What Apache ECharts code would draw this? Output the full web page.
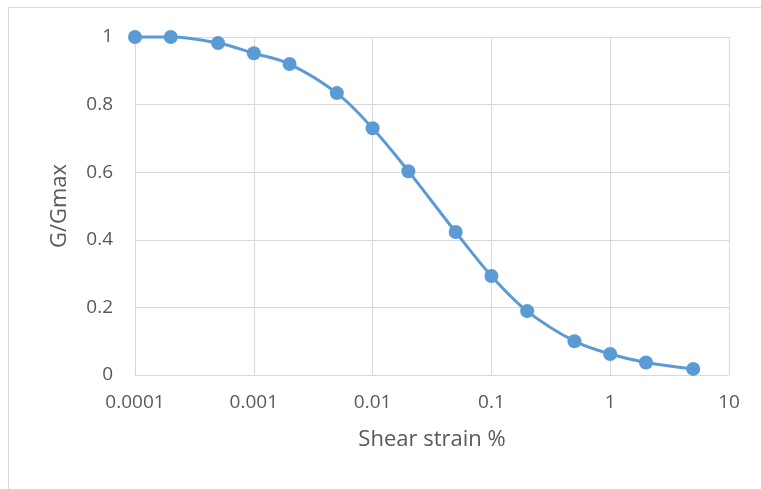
<!DOCTYPE html>
<html>
<head>
<meta charset="utf-8">
<script src="https://cdn.jsdelivr.net/npm/echarts@6/dist/echarts.min.js"></script>
<style>html,body{margin:0;padding:0;background:#fff;}#c{width:761px;height:489px;}</style>
</head>
<body>
<div id="c"></div>
<script>
const strain = [0.0001, 0.0002, 0.0005, 0.001, 0.002, 0.005, 0.01, 0.02, 0.05, 0.1, 0.2, 0.5, 1, 2, 5];
const ggmax = [1.0, 1.0, 0.982, 0.952, 0.92, 0.834, 0.73, 0.603, 0.423, 0.293, 0.189, 0.10, 0.062, 0.037, 0.018];
const xTickLabels = ['0.0001', '0.001', '0.01', '0.1', '1', '10'];
const yTickLabels = ['0', '0.2', '0.4', '0.6', '0.8', '1'];

const chart = echarts.init(document.getElementById('c'), null, {renderer: 'canvas'});
const font = '"Open Sans", "Liberation Sans", sans-serif';
const gridColor = '#D9D9D9';
const textColor = '#595959';

chart.setOption({
  animation: false,
  graphic: [{
    type: 'rect', shape: {x: 8.5, y: 7.5, width: 900, height: 700},
    style: {fill: 'none', stroke: gridColor, lineWidth: 1}, silent: true, z: -1
  }],
  grid: {left: 135, right: 32, top: 37, bottom: 114, containLabel: false},
  xAxis: {
    type: 'log', logBase: 10, min: 0.0001, max: 10,
    name: 'Shear strain %', nameLocation: 'middle', nameGap: 54,
    nameTextStyle: {color: textColor, fontSize: 22, fontFamily: font},
    axisLine: {show: true, lineStyle: {color: gridColor, width: 1}},
    axisTick: {show: false},
    minorTick: {show: false},
    splitLine: {show: true, lineStyle: {color: gridColor, width: 1}},
    axisLabel: {
      color: textColor, fontSize: 19, fontFamily: font, margin: 18,
      formatter: function (v) {
        const i = Math.round(Math.log10(v) + 4);
        return xTickLabels[i] !== undefined ? xTickLabels[i] : '';
      }
    }
  },
  yAxis: {
    type: 'value', min: 0, max: 1, interval: 0.2,
    name: 'G/Gmax', nameLocation: 'middle', nameGap: 64, nameRotate: 90,
    nameTextStyle: {color: textColor, fontSize: 22, fontFamily: font},
    axisLine: {show: true, lineStyle: {color: gridColor, width: 1}},
    axisTick: {show: false},
    splitLine: {show: true, lineStyle: {color: gridColor, width: 1}},
    axisLabel: {
      color: textColor, fontSize: 19, fontFamily: font, margin: 22,
      formatter: function (v) {
        const i = Math.round(v * 5);
        return yTickLabels[i] !== undefined ? yTickLabels[i] : '';
      }
    }
  },
  series: [{
    type: 'line',
    data: strain.map((x, i) => [x, ggmax[i]]),
    smooth: 0.35,
    symbol: 'circle', symbolSize: 14,
    lineStyle: {color: '#5B9BD5', width: 3},
    itemStyle: {color: '#5B9BD5'},
    clip: false
  }]
});
</script>
</body>
</html>
